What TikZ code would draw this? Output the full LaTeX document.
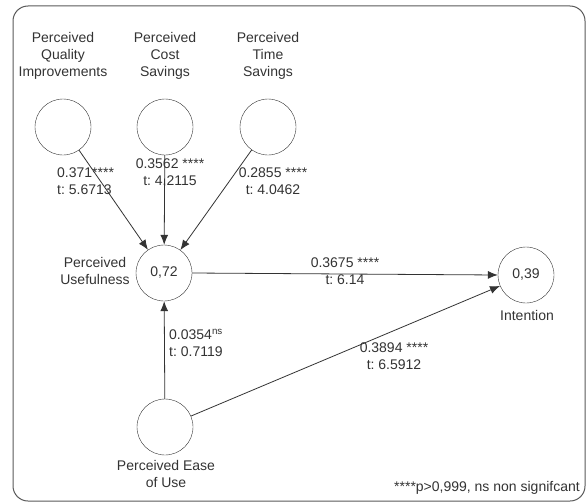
\documentclass[tikz,border=0pt]{standalone}
\usepackage{fontspec}
\setmainfont{Liberation Sans}
\usetikzlibrary{arrows.meta}
\frenchspacing

\begin{document}
\begin{tikzpicture}[x = 1pt, y = -1pt,
	font = \fontsize{14}{17}\selectfont, text = black!80,
	latent/.style = {draw = black!80, circle, minimum size = 56pt, inner sep = 0pt},
	lbl/.style = {align = center, inner sep = 0pt},
	path/.style = {draw = black!80, line width = 0.8pt, -{Latex[length = 10pt, width = 8pt]}}]
	\useasboundingbox (0,0) rectangle (588,503);
	\draw[black!65, line width = 1pt, rounded corners = 15pt] (13,6) rectangle (585,501);

	% constructs
	\node[latent] (qi) at (63,127) {};
	\node[latent] (cs) at (165,127) {};
	\node[latent] (ts) at (268,127) {};
	\node[latent] (pu) at (164,273) {0,72};
	\node[latent] (int) at (526,275) {0,39};
	\node[latent] (peou) at (165,427) {};

	\node[lbl] (qiname) at (63,56) {Perceived\\Quality\\Improvements};
	\node[lbl] (csname) at (165,56) {Perceived\\Cost\\Savings};
	\node[lbl] (tsname) at (268,56) {Perceived\\Time\\Savings};
	\node[lbl] (puname) at (95,271) {Perceived\\Usefulness};
	\node[lbl] (intname) at (527,315) {Intention};
	\node[lbl] (peouname) at (166,474) {Perceived Ease\\of Use};

	% paths
	\draw[path] (qi) -- (pu);
	\draw[path] (cs) -- (pu);
	\draw[path] (ts) -- (pu);
	\draw[path] (peou) -- (pu);
	\draw[path] (pu.east) -- (int.west);
	\draw[path] (peou) -- (int);

	% coefficients
	\node[lbl, align = left, anchor = west] (qipu) at (57,181) {0.371****\\t: 5.6713};
	\node[lbl] (cspu) at (170,172) {0.3562 ****\\t: 4.2115};
	\node[lbl] (tspu) at (273,181) {0.2855 ****\\t: 4.0462};
	\node[lbl] (puint) at (345,271) {0.3675 ****\\t: 6.14};
	\node[lbl, align = left, anchor = west] (peoupu) at (169,343) {0.0354\textsuperscript{ns}\\t: 0.7119};
	\node[lbl] (peouint) at (394,356) {0.3894 ****\\t: 6.5912};

	\node[lbl, anchor = east] (note) at (580,488) {****p>0,999, ns non signifcant};
\end{tikzpicture}
\end{document}
